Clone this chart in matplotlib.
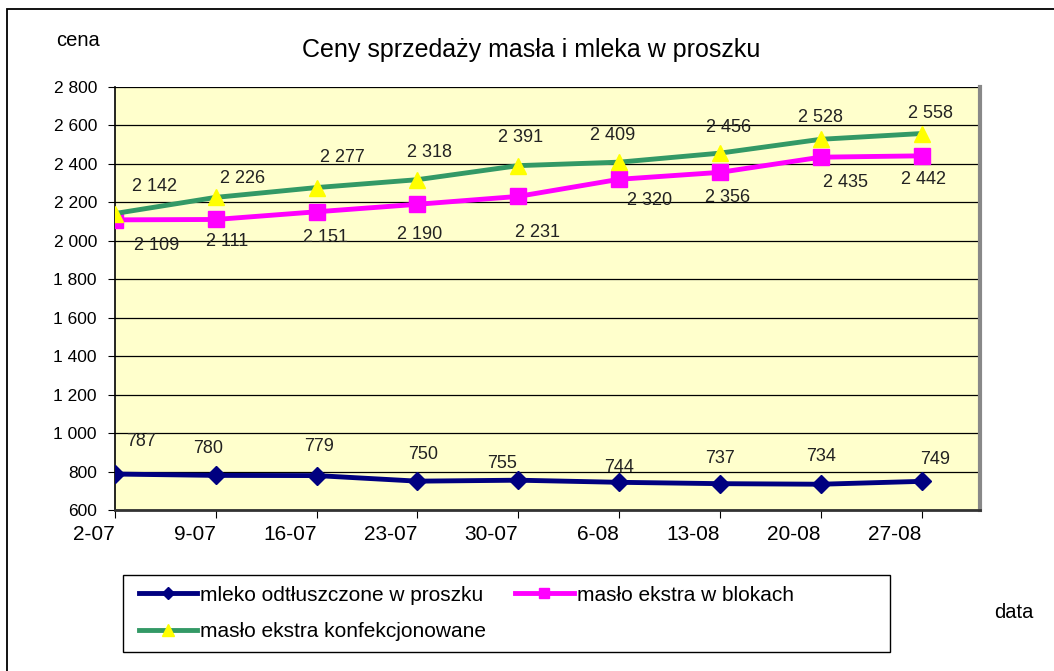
import matplotlib.pyplot as plt
from matplotlib.patches import Rectangle
from matplotlib.ticker import FuncFormatter

plt.rcParams['font.family'] = ['Liberation Sans', 'DejaVu Sans']

# dates (week start) and prices
dates = ['2-07', '9-07', '16-07', '23-07', '30-07', '6-08', '13-08', '20-08', '27-08']
mleko = [787, 780, 779, 750, 755, 744, 737, 734, 749]
maslo_bloki = [2109, 2111, 2151, 2190, 2231, 2320, 2356, 2435, 2442]
maslo_konf = [2142, 2226, 2277, 2318, 2391, 2409, 2456, 2528, 2558]

# label offsets in pixels (dx, dy up)
off_mleko = [(26, 33), (-8, 27), (2, 29), (6, 27), (-16, 17), (0, 15), (0, 25), (0, 28), (14, 22)]
off_bloki = [(42, -26), (11, -22), (9, -26), (2, -30), (19, -36), (30, -21), (8, -25), (25, -25), (2, -24)]
off_konf = [(40, 27), (27, 19), (26, 30), (12, 27), (2, 28), (-6, 27), (9, 26), (0, 22), (9, 20)]


def fmt_pl(v):
    return '{:,}'.format(int(v)).replace(',', ' ')


W, H = 1054, 671
fig = plt.figure(figsize=(W / 100, H / 100), dpi=100)
# outer chart frame (right and bottom edges run off the picture)
fig.patches.append(Rectangle((7 / W, -0.1), 1.2, (H - 9) / H + 0.1,
                             transform=fig.transFigure, fill=False,
                             edgecolor='black', linewidth=1.3))

ax = fig.add_axes([115 / W, (H - 510) / H, (980 - 115) / W, (510 - 87) / H])
ax.set_facecolor('#ffffcc')

x = list(range(len(dates)))
l1, = ax.plot(x, mleko, color='#000080', linewidth=3.5, marker='D', markersize=9,
              label='mleko odtłuszczone w proszku', zorder=3)
l2, = ax.plot(x, maslo_bloki, color='#ff00ff', linewidth=3.5, marker='s', markersize=11,
              label='masło ekstra w blokach', zorder=3)
l3, = ax.plot(x, maslo_konf, color='#339966', linewidth=3.5, marker='^', markersize=12,
              markerfacecolor='#ffff00', markeredgecolor='#ffff00',
              label='masło ekstra konfekcjonowane', zorder=4)

for vals, offs in ((mleko, off_mleko), (maslo_bloki, off_bloki), (maslo_konf, off_konf)):
    for xi, v, (dx, dy) in zip(x, vals, offs):
        ax.annotate(fmt_pl(v), (xi, v), xytext=(dx, dy), textcoords='offset pixels',
                    ha='center', va='center', fontsize=13, color='#222222', zorder=5)

ax.set_xlim(0, 8.58)
ax.set_ylim(600, 2800)
ax.set_yticks(range(600, 2801, 200))
ax.yaxis.set_major_formatter(FuncFormatter(lambda v, p: fmt_pl(v)))
ax.grid(axis='y', color='black', linewidth=0.9)
ax.set_axisbelow(True)
ax.set_xticks(x)
ax.set_xticklabels(dates, fontsize=15, ha='right')
ax.tick_params(axis='x', length=6, pad=5, direction='out')
ax.tick_params(axis='y', labelsize=12.5, length=5, pad=8)

for s in ('left', 'bottom'):
    ax.spines[s].set_color('black')
    ax.spines[s].set_linewidth(1.2)
ax.spines['top'].set_visible(False)
ax.spines['right'].set_color('#888888')
ax.spines['right'].set_linewidth(3)
ax.spines['bottom'].set_color('#333333')
ax.spines['bottom'].set_linewidth(2)

fig.text(531 / W, 1 - 50 / H, 'Ceny sprzedaży masła i mleka w proszku',
         ha='center', va='center', fontsize=18)
fig.text(78 / W, 1 - 40 / H, 'cena', ha='center', va='center', fontsize=14.5)
fig.text(1014 / W, 1 - 613 / H, 'data', ha='center', va='center', fontsize=14.5)

# legend box as in the original, entries inside without their own frame
fig.patches.append(Rectangle((123 / W, (H - 652) / H), (890 - 123) / W, (652 - 575) / H,
                             transform=fig.transFigure, facecolor='white',
                             edgecolor='black', linewidth=1.0, zorder=1))
leg = fig.legend([l1, l3, l2], [l1.get_label(), l3.get_label(), l2.get_label()],
                 loc='upper left', bbox_to_anchor=(124 / W, 1 - 571 / H),
                 ncol=2, fontsize=15, frameon=False,
                 handlelength=2.8, handletextpad=0.15,
                 columnspacing=1.4, borderpad=0.2, labelspacing=0.85,
                 markerscale=0.7)

fig.savefig('out.png', dpi=100)
